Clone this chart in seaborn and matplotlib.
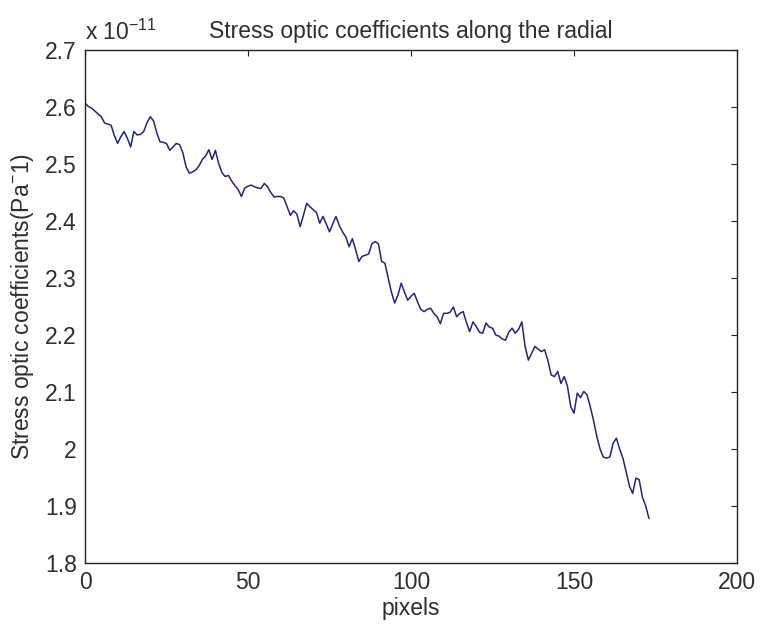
import numpy as np
import pandas as pd
import matplotlib
matplotlib.use("Agg")
import matplotlib.pyplot as plt
from matplotlib.ticker import FuncFormatter, MultipleLocator
import seaborn as sns

# Stress optic coefficient along the radial, in units of 1e-11 Pa^-1
pixel_index = list(range(174))
coeff_e11 = [
    2.607, 2.601, 2.598, 2.593, 2.588, 2.583, 2.572, 2.570, 2.568, 2.550,
    2.536, 2.548, 2.557, 2.545, 2.530, 2.557, 2.551, 2.552, 2.557, 2.572,
    2.583, 2.576, 2.555, 2.539, 2.538, 2.536, 2.524, 2.530, 2.536, 2.534,
    2.520, 2.495, 2.484, 2.486, 2.490, 2.497, 2.508, 2.514, 2.525, 2.508,
    2.524, 2.501, 2.485, 2.478, 2.480, 2.470, 2.462, 2.455, 2.443, 2.458,
    2.461, 2.463, 2.460, 2.458, 2.457, 2.466, 2.460, 2.450, 2.442, 2.443,
    2.443, 2.440, 2.425, 2.410, 2.418, 2.412, 2.390, 2.410, 2.431, 2.425,
    2.420, 2.415, 2.396, 2.408, 2.395, 2.381, 2.395, 2.408, 2.392, 2.381,
    2.372, 2.355, 2.369, 2.350, 2.329, 2.338, 2.340, 2.342, 2.360, 2.364,
    2.360, 2.329, 2.326, 2.300, 2.275, 2.256, 2.270, 2.291, 2.275, 2.261,
    2.268, 2.273, 2.258, 2.245, 2.241, 2.245, 2.247, 2.238, 2.232, 2.220,
    2.238, 2.238, 2.240, 2.249, 2.232, 2.238, 2.241, 2.222, 2.206, 2.223,
    2.215, 2.205, 2.203, 2.221, 2.214, 2.212, 2.200, 2.198, 2.193, 2.191,
    2.205, 2.212, 2.203, 2.210, 2.223, 2.180, 2.156, 2.168, 2.180, 2.175,
    2.171, 2.174, 2.155, 2.130, 2.127, 2.136, 2.115, 2.127, 2.110, 2.074,
    2.063, 2.098, 2.090, 2.101, 2.095, 2.074, 2.050, 2.022, 2.000, 1.986,
    1.984, 1.986, 2.010, 2.019, 2.000, 1.984, 1.960, 1.935, 1.922, 1.949,
    1.946, 1.915, 1.900, 1.878,
]
scale = 1e-11

x_ticks = [0, 50, 100, 150, 200]
y_limits = (1.8, 2.7)

sns.set_style("white")
plt.rcParams["font.family"] = ["Liberation Sans", "DejaVu Sans"]
plt.rcParams["mathtext.fontset"] = "custom"
plt.rcParams["mathtext.rm"] = "Liberation Sans"
plt.rcParams["mathtext.it"] = "Liberation Sans"
plt.rcParams["mathtext.default"] = "regular"

df = pd.DataFrame({"pixels": pixel_index,
                   "coeff": np.array(coeff_e11) * scale})

fs = 16.5
txt = "#2e2e2e"
fig = plt.figure(figsize=(7.61, 6.27), dpi=100)
ax = fig.add_axes([85 / 761, 1 - 563 / 627, 652 / 761, 513 / 627])

sns.lineplot(data=df, x="pixels", y="coeff", ax=ax, color="#25257a",
             linewidth=1.1)

ax.set_xlim(0, 200)
ax.set_ylim(y_limits[0] * scale, y_limits[1] * scale)
ax.set_xticks(x_ticks)
ax.yaxis.set_major_locator(MultipleLocator(0.1 * scale))
ax.yaxis.set_major_formatter(FuncFormatter(lambda v, p: f"{v / scale:g}"))
ax.yaxis.get_offset_text().set_visible(False)
ax.xaxis.get_offset_text().set_visible(False)

for s in ax.spines.values():
    s.set_visible(True)
    s.set_color("#222222")
    s.set_linewidth(1.0)

ax.tick_params(direction="in", length=4.5, width=0.8, colors="#222222",
               labelsize=fs, labelcolor=txt, top=True, right=True,
               pad=6)

ax.set_xlabel("pixels", fontsize=fs, color=txt, labelpad=2)
ax.set_ylabel("Stress optic coefficients(Pa$^{-}$1)", fontsize=fs,
              color=txt, labelpad=6)
ax.set_title("Stress optic coefficients along the radial", fontsize=fs,
             color=txt, pad=8.5)

fig.text(85 / 761, 1 - 40 / 627, "x 10$^{-11}$", fontsize=fs,
         color=txt, ha="left", va="baseline")

fig.savefig("out.png", dpi=100, facecolor="white")
